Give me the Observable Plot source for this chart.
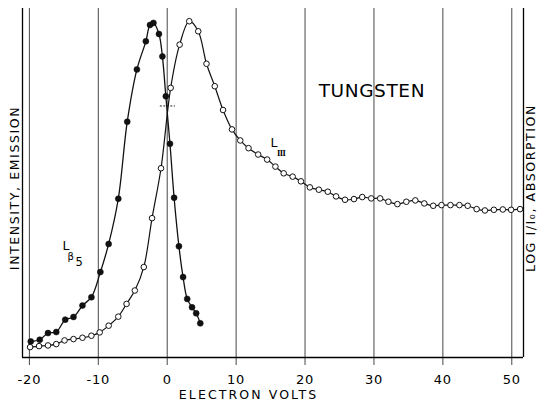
<!DOCTYPE html>
<html>
<head>
<meta charset="utf-8">
<script src="https://cdn.jsdelivr.net/npm/d3@7"></script>
<script src="https://cdn.jsdelivr.net/npm/@observablehq/plot@0.6"></script>
<style>
  html, body { margin: 0; padding: 0; background: #fff; }
</style>
</head>
<body>
<div id="chart"></div>
<script>
// ---- data (electron volts vs. relative intensity, arbitrary units) ----
const lbEV  = [-19.8,-18.5,-17.3,-16.1,-14.8,-13.6,-12.3,-11.0,-9.7,-8.5,-7.1,-5.8,-4.4,-3.1,-2.5,-2.0,-1.2,-0.7,-0.2,0.4,1.0,1.7,2.3,2.9,3.6,4.2,4.8];
const lbInt = [4.8,5.3,7.3,7.6,11.3,12.1,15.5,18.0,25.5,33.9,47.4,70.4,86.0,94.4,99.3,99.9,96.6,89.9,78.0,63.8,47.7,33.2,24.0,17.5,15.0,13.2,10.2];

const l3EV  = [-19.9,-18.6,-17.3,-16.1,-14.9,-13.6,-12.3,-11.0,-9.8,-8.5,-7.1,-5.9,-4.7,-3.4,-2.2,-0.9,0.5,1.8,3.2,4.5,5.7,6.9,8.1,9.4,10.6,11.8,13.2,14.5,15.7,16.9,18.2,19.4,20.7,22.0,23.3,24.5,25.8,27.1,28.3,29.6,30.9,32.1,33.4,34.7,36.0,37.3,38.6,39.8,41.1,42.4,43.6,44.9,46.1,47.4,48.7,49.9,51.2];
const l3Int = [3.1,3.4,3.6,4.0,5.1,5.5,5.9,6.5,7.5,9.5,12.2,16.0,20.0,27.0,41.6,56.5,80.5,93.4,100.4,97.4,87.7,81.0,73.9,68.1,64.8,62.5,60.6,59.1,57.0,55.0,54.0,52.6,50.8,50.1,49.5,48.1,47.1,47.3,47.9,47.5,47.5,46.5,45.8,46.5,46.9,46.0,45.3,45.5,45.5,45.5,45.3,44.3,43.9,44.1,44.2,44.1,44.3];

const xTicks = [-20,-10,0,10,20,30,40,50];
const xDomain = [-21, 51.7];
const yDomain = [0, 104.2];

// edge marker (short dashed line at the absorption edge)
const edgeMark = [{x1: -1.0, x2: 1.2, y: 75.1}];

// annotations
const title = [{text: "TUNGSTEN", x: 29.7, y: 79.4}];
const xLabel = [{text: "ELECTRON VOLTS", x: 11.8}];
const yLabelLeft = ["INTENSITY, EMISSION"];
const yLabelRight = ["LOG I/I\u2080, ABSORPTION"];
const lbLabel = [{x: -15.2, y: 32.2}];
const l3Label = [{x: 15.0, y: 62.7}];

const lb = lbEV.map((v, i) => ({ev: v, val: lbInt[i]}));
const l3 = l3EV.map((v, i) => ({ev: v, val: l3Int[i]}));

const font = "DejaVu Sans";
const ink = "#000";

const chart = Plot.plot({
  width: 538,
  height: 407,
  marginLeft: 22,
  marginRight: 15,
  marginTop: 8,
  marginBottom: 50,
  style: {fontFamily: font, background: "#fff", color: ink},
  x: {domain: xDomain},
  y: {domain: yDomain, axis: null},
  marks: [
    // vertical grid lines (extend a little below the baseline as ticks)
    Plot.ruleX(xTicks, {stroke: "#333", strokeWidth: 0.9, insetBottom: -8}),
    // frame: left, right, bottom
    Plot.ruleX([xDomain[0], xDomain[1]], {stroke: ink, strokeWidth: 1.3}),
    Plot.ruleY([0], {stroke: ink, strokeWidth: 1.3}),
    Plot.axisX({ticks: xTicks, tickSize: 0, tickPadding: 17, fontSize: 13, tickFormat: d => String(d), label: null, fill: ink}),
    // edge marker
    Plot.ruleY(edgeMark, {x1: "x1", x2: "x2", y: "y", stroke: "#222", strokeWidth: 1, strokeDasharray: "2,1.5"}),
    // curves
    Plot.line(lb, {x: "ev", y: "val", curve: "catmull-rom", stroke: "#111", strokeWidth: 1.3}),
    Plot.line(l3, {x: "ev", y: "val", curve: "catmull-rom", stroke: "#111", strokeWidth: 1.2}),
    Plot.dot(lb, {x: "ev", y: "val", r: 3, fill: "#111", stroke: "#111", strokeWidth: 0.5}),
    Plot.dot(l3, {x: "ev", y: "val", r: 2.8, fill: "#fff", stroke: "#111", strokeWidth: 1}),
    // texts
    Plot.text(title, {x: "x", y: "y", text: "text", fontSize: 18.5, fill: ink, textAnchor: "middle"}),
    Plot.text(xLabel, {x: "x", text: "text", frameAnchor: "bottom", dy: 41, fontSize: 12.5, fill: ink}),
    Plot.text(yLabelLeft, {text: d => d, frameAnchor: "left", textAnchor: "middle", rotate: -90, dx: -8, dy: 5, fontSize: 12.5, fill: ink}),
    Plot.text(yLabelRight, {text: d => d, frameAnchor: "right", textAnchor: "middle", rotate: -90, dx: 7, dy: 5, fontSize: 12.5, fill: ink}),
    // L beta 5
    Plot.text(lbLabel, {x: "x", y: "y", text: () => "L", fontSize: 12.5, textAnchor: "start", lineAnchor: "bottom", fill: ink}),
    Plot.text(lbLabel, {x: "x", y: "y", text: () => "\u03B2", fontSize: 10, textAnchor: "start", lineAnchor: "bottom", dx: 5, dy: 10, fill: ink}),
    Plot.text(lbLabel, {x: "x", y: "y", text: () => "5", fontSize: 11.5, textAnchor: "start", lineAnchor: "bottom", dx: 13, dy: 16, fill: ink}),
    // L III
    Plot.text(l3Label, {x: "x", y: "y", text: () => "L", fontSize: 12.5, textAnchor: "start", lineAnchor: "bottom", fill: ink}),
    Plot.text(l3Label, {x: "x", y: "y", text: () => "III", fontSize: 8.5, fontWeight: "bold", fontFamily: "Liberation Serif", textAnchor: "start", lineAnchor: "bottom", dx: 6.5, dy: 9, fill: ink})
  ]
});

// letter spacing like the lettering-guide text of the original
d3.select(chart).selectAll("text").each(function () {
  const t = this.textContent;
  if (t === "III") d3.select(this).attr("letter-spacing", "-0.6");
  else if (t === "TUNGSTEN") d3.select(this).attr("letter-spacing", "0.6");
  else if (t === "ELECTRON VOLTS") d3.select(this).attr("letter-spacing", "2.1");
  else if (t.length > 3) d3.select(this).attr("letter-spacing", "1.6");
  else d3.select(this).attr("letter-spacing", "0.8");
});

document.getElementById("chart").appendChild(chart);
</script>
</body>
</html>
